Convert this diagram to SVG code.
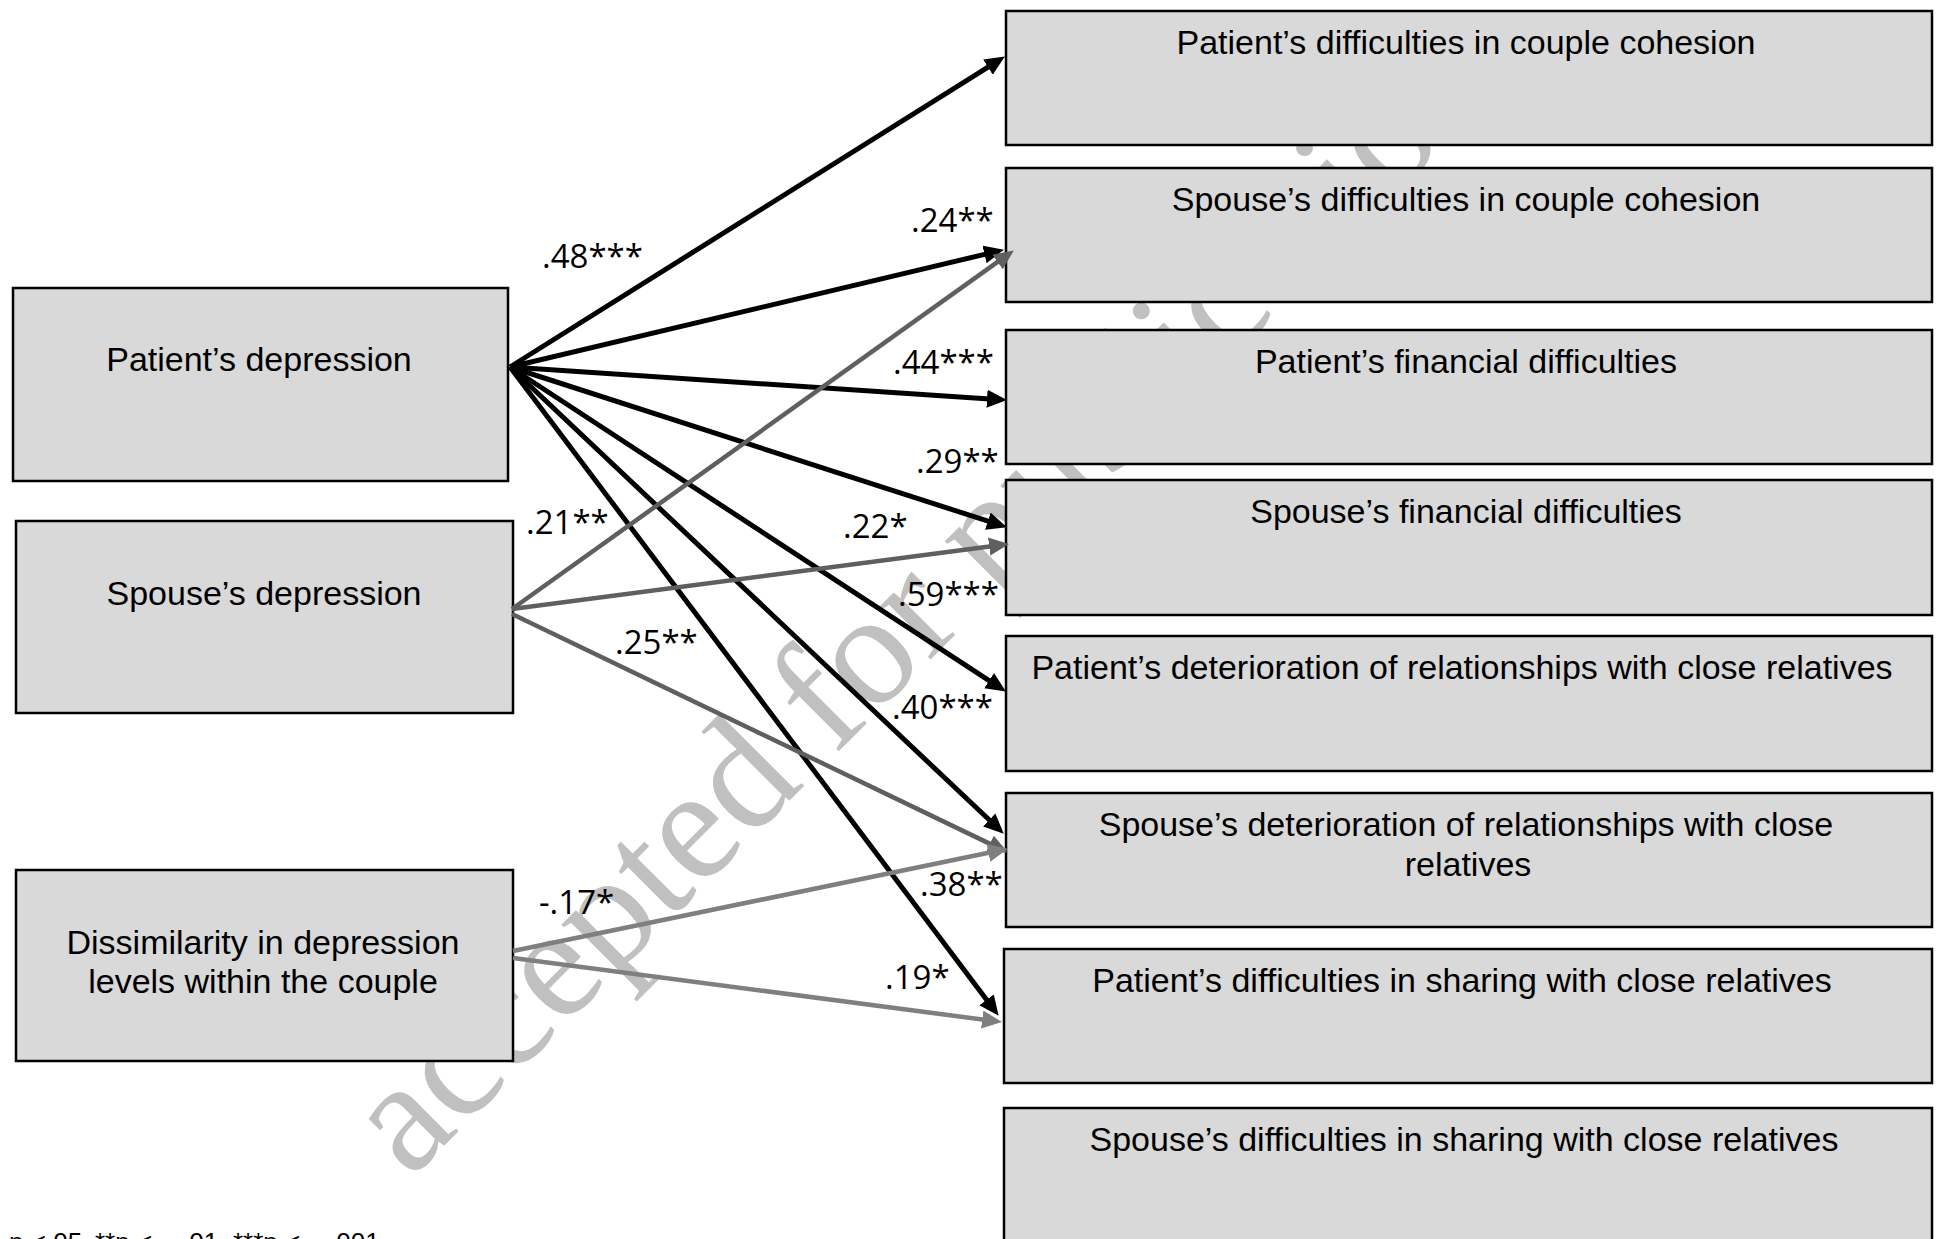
<svg xmlns="http://www.w3.org/2000/svg" width="1937" height="1239" viewBox="0 0 1937 1239">
<style>
.box{fill:#d9d9d9;stroke:#000;stroke-width:2.5}
.t{font-family:"Liberation Sans",Arial,sans-serif;font-size:34px;fill:#000;text-anchor:middle}
.lbl{font-family:"Open Sans","Noto Sans",sans-serif;font-size:33px;fill:#000}
.wm{font-family:"Liberation Serif","Times New Roman",serif;font-size:160px;fill:#c0c0c0}
.fn{font-family:"Liberation Sans",Arial,sans-serif;font-size:26px;fill:#000}
.k{stroke:#000;stroke-width:5;fill:none;marker-end:url(#ak)}
.g1{stroke:#5f5f5f;stroke-width:4.5;fill:none;marker-end:url(#ag1)}
.g2{stroke:#7f7f7f;stroke-width:4.5;fill:none;marker-end:url(#ag2)}
</style>
<defs>
<marker id="ak" markerUnits="userSpaceOnUse" markerWidth="22" markerHeight="22" refX="10" refY="9" orient="auto"><path d="M0,0 L20,9 L0,18 z" fill="#000"/></marker>
<marker id="ag1" markerUnits="userSpaceOnUse" markerWidth="22" markerHeight="22" refX="10" refY="9" orient="auto"><path d="M0,0 L20,9 L0,18 z" fill="#5f5f5f"/></marker>
<marker id="ag2" markerUnits="userSpaceOnUse" markerWidth="22" markerHeight="22" refX="10" refY="9" orient="auto"><path d="M0,0 L20,9 L0,18 z" fill="#7f7f7f"/></marker>
</defs>
<rect width="1937" height="1239" fill="#fff"/>
<text class="wm" x="410" y="1180" transform="rotate(-45 410 1180)">accepted for publication</text>

<g id="n-patient-dep"><rect class="box" x="13" y="288" width="495" height="193"/><text class="t" x="259" y="371">Patient’s depression</text></g>
<g id="n-spouse-dep"><rect class="box" x="16" y="521" width="497" height="192"/><text class="t" x="264" y="605">Spouse’s depression</text></g>
<g id="n-dissim"><rect class="box" x="16" y="870" width="497" height="191"/><text class="t" x="263" y="954">Dissimilarity in depression</text><text class="t" x="263" y="993">levels within the couple</text></g>

<g id="n-r1"><rect class="box" x="1006" y="11" width="926" height="134"/><text class="t" x="1466" y="54">Patient’s difficulties in couple cohesion</text></g>
<g id="n-r2"><rect class="box" x="1006" y="168" width="926" height="134"/><text class="t" x="1466" y="211">Spouse’s difficulties in couple cohesion</text></g>
<g id="n-r3"><rect class="box" x="1006" y="330" width="926" height="134"/><text class="t" x="1466" y="373">Patient’s financial difficulties</text></g>
<g id="n-r4"><rect class="box" x="1006" y="480" width="926" height="135"/><text class="t" x="1466" y="523">Spouse’s financial difficulties</text></g>
<g id="n-r5"><rect class="box" x="1006" y="636" width="926" height="135"/><text class="t" x="1462" y="679">Patient’s deterioration of relationships with close relatives</text></g>
<g id="n-r6"><rect class="box" x="1006" y="793" width="926" height="134"/><text class="t" x="1466" y="836">Spouse’s deterioration of relationships with close</text><text class="t" x="1468" y="876">relatives</text></g>
<g id="n-r7"><rect class="box" x="1004" y="949" width="928" height="134"/><text class="t" x="1462" y="992">Patient’s difficulties in sharing with close relatives</text></g>
<g id="n-r8"><rect class="box" x="1004" y="1108" width="928" height="160"/><text class="t" x="1464" y="1151">Spouse’s difficulties in sharing with close relatives</text></g>

<g id="connectors">
<path class="k" d="M510,367 L996.4,61.8"/>
<path class="k" d="M510,367 L994.2,252.1"/>
<path class="k" d="M510,367 L997,399.4"/>
<path class="k" d="M510,367 L997.4,524.2"/>
<path class="k" d="M510,367 L997.5,686.1"/>
<path class="k" d="M510,367 L996.5,826.8"/>
<path class="k" d="M510,367 L992.6,1007.8"/>
<path class="g1" d="M512,609 L1005.7,256.2"/>
<path class="g1" d="M512,609 L999.1,545.2"/>
<path class="g1" d="M512,614 L998.9,848.1"/>
<path class="g2" d="M513,951 L998.2,850.8"/>
<path class="g2" d="M513,958 L992.1,1020.8"/>
</g>

<g id="labels">
<text class="lbl" x="542" y="268">.48***</text>
<text class="lbl" x="911" y="232">.24**</text>
<text class="lbl" x="893" y="374">.44***</text>
<text class="lbl" x="916" y="473">.29**</text>
<text class="lbl" x="526" y="534">.21**</text>
<text class="lbl" x="843" y="538">.22*</text>
<text class="lbl" x="898" y="606">.59***</text>
<text class="lbl" x="615" y="654">.25**</text>
<text class="lbl" x="892" y="719">.40***</text>
<text class="lbl" x="920" y="896">.38**</text>
<text class="lbl" x="539" y="914">-.17*</text>
<text class="lbl" x="885" y="989">.19*</text>
</g>

<text class="fn" y="1251"><tspan x="9">p &lt;</tspan><tspan x="46">.05,</tspan><tspan x="95">**p &lt;</tspan><tspan x="182">.01,</tspan><tspan x="233">***p &lt;</tspan><tspan x="329">.001</tspan></text>
</svg>
